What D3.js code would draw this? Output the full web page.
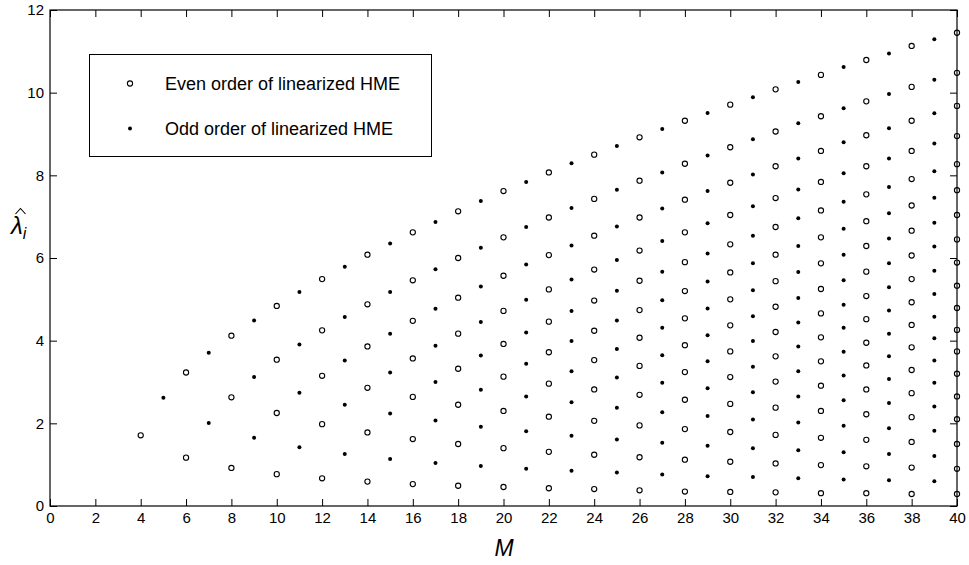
<!DOCTYPE html>
<html>
<head>
<meta charset="utf-8">
<script src="https://cdn.jsdelivr.net/npm/d3@7"></script>
<style>
  body { margin: 0; background: #fff; }
  text { font-family: "Liberation Sans", Arial, sans-serif; }
</style>
</head>
<body>
<div id="chart"></div>
<script>
// Frame size and margins
const FRAME_WIDTH = 969;
const FRAME_HEIGHT = 565;
const MARGINS = {left: 50, right: 12, top: 10, bottom: 59};
const VIS_WIDTH = FRAME_WIDTH - MARGINS.left - MARGINS.right;
const VIS_HEIGHT = FRAME_HEIGHT - MARGINS.top - MARGINS.bottom;

// Tick values
const X_TICKS = d3.range(0, 41, 2);
const Y_TICKS = [0, 2, 4, 6, 8, 10, 12];

// Even orders M and their eigenvalues
const M_EVEN = [4, 6, 8, 10, 12, 14, 16, 18, 20, 22, 24, 26, 28, 30, 32, 34, 36, 38, 40];
const LAMBDA_EVEN = [
  [1.71],
  [3.23, 1.17],
  [4.12, 2.63, 0.92],
  [4.84, 3.54, 2.25, 0.77],
  [5.49, 4.25, 3.15, 1.98, 0.67],
  [6.08, 4.88, 3.86, 2.86, 1.78, 0.59],
  [6.62, 5.46, 4.48, 3.57, 2.64, 1.62, 0.53],
  [7.13, 6.00, 5.04, 4.17, 3.32, 2.45, 1.50, 0.49],
  [7.62, 6.50, 5.57, 4.72, 3.92, 3.13, 2.30, 1.40, 0.46],
  [8.07, 6.98, 6.07, 5.24, 4.46, 3.72, 2.96, 2.16, 1.31, 0.43],
  [8.50, 7.43, 6.54, 5.72, 4.97, 4.24, 3.53, 2.82, 2.06, 1.24, 0.41],
  [8.92, 7.87, 6.98, 6.18, 5.45, 4.74, 4.07, 3.39, 2.69, 1.95, 1.18, 0.38],
  [9.32, 8.28, 7.41, 6.62, 5.90, 5.20, 4.54, 3.89, 3.24, 2.57, 1.86, 1.12, 0.35],
  [9.71, 8.68, 7.82, 7.04, 6.33, 5.65, 5.00, 4.37, 3.74, 3.12, 2.47, 1.79, 1.07, 0.34],
  [10.08, 9.06, 8.22, 7.45, 6.75, 6.08, 5.44, 4.82, 4.21, 3.62, 3.01, 2.38, 1.72, 1.03, 0.33],
  [10.43, 9.43, 8.59, 7.84, 7.15, 6.50, 5.87, 5.25, 4.66, 4.08, 3.50, 2.91, 2.30, 1.65, 0.99, 0.31],
  [10.79, 9.79, 8.97, 8.22, 7.54, 6.89, 6.29, 5.67, 5.08, 4.52, 3.95, 3.40, 2.82, 2.22, 1.60, 0.96, 0.31],
  [11.13, 10.14, 9.32, 8.59, 7.91, 7.27, 6.66, 6.06, 5.49, 4.93, 4.38, 3.84, 3.29, 2.73, 2.15, 1.55, 0.93, 0.29],
  [11.45, 10.48, 9.68, 8.95, 8.27, 7.64, 7.04, 6.45, 5.89, 5.33, 4.79, 4.26, 3.74, 3.20, 2.65, 2.10, 1.50, 0.90, 0.29]
];

// Odd orders M and their eigenvalues
const M_ODD = [5, 7, 9, 11, 13, 15, 17, 19, 21, 23, 25, 27, 29, 31, 33, 35, 37, 39];
const LAMBDA_ODD = [
  [2.62],
  [3.71, 2.01],
  [4.49, 3.12, 1.65],
  [5.18, 3.91, 2.74, 1.42],
  [5.79, 4.57, 3.52, 2.45, 1.26],
  [6.35, 5.18, 4.17, 3.23, 2.24, 1.14],
  [6.87, 5.73, 4.77, 3.88, 3.00, 2.07, 1.04],
  [7.38, 6.25, 5.31, 4.45, 3.64, 2.81, 1.92, 0.97],
  [7.84, 6.75, 5.84, 4.99, 4.20, 3.44, 2.65, 1.81, 0.90],
  [8.29, 7.21, 6.30, 5.48, 4.72, 3.99, 3.26, 2.51, 1.70, 0.85],
  [8.71, 7.65, 6.76, 5.95, 5.21, 4.49, 3.80, 3.11, 2.38, 1.61, 0.81],
  [9.12, 8.07, 7.20, 6.41, 5.67, 4.98, 4.31, 3.65, 2.98, 2.27, 1.53, 0.76],
  [9.51, 8.48, 7.62, 6.84, 6.11, 5.43, 4.78, 4.13, 3.50, 2.85, 2.18, 1.46, 0.72],
  [9.89, 8.87, 8.02, 7.25, 6.54, 5.87, 5.22, 4.59, 3.99, 3.37, 2.75, 2.09, 1.40, 0.70],
  [10.26, 9.26, 8.41, 7.66, 6.96, 6.29, 5.66, 5.03, 4.44, 3.86, 3.26, 2.65, 2.02, 1.35, 0.67],
  [10.62, 9.62, 8.80, 8.05, 7.36, 6.71, 6.08, 5.46, 4.87, 4.31, 3.73, 3.16, 2.56, 1.94, 1.30, 0.64],
  [10.95, 9.97, 9.14, 8.41, 7.72, 7.08, 6.47, 5.87, 5.29, 4.73, 4.17, 3.62, 3.07, 2.49, 1.88, 1.26, 0.62],
  [11.29, 10.31, 9.50, 8.77, 8.10, 7.46, 6.85, 6.28, 5.69, 5.13, 4.58, 4.06, 3.52, 2.98, 2.41, 1.82, 1.21, 0.60]
];

// Flatten into point lists for drawing
const evenPts = M_EVEN.flatMap((m, i) => LAMBDA_EVEN[i].map(v => ({m: m, v: v})));
const oddPts = M_ODD.flatMap((m, i) => LAMBDA_ODD[i].map(v => ({m: m, v: v})));

const svg = d3.select("#chart")
  .append("svg")
    .attr("width", FRAME_WIDTH)
    .attr("height", FRAME_HEIGHT);

const g = svg.append("g")
  .attr("transform", "translate(" + MARGINS.left + "," + MARGINS.top + ")");

// Scales
const X_SCALE = d3.scaleLinear().domain([0, 40]).range([0, VIS_WIDTH]);
const Y_SCALE = d3.scaleLinear().domain([0, 12]).range([VIS_HEIGHT, 0]);

// Bottom axis with inward ticks
g.append("g")
  .attr("transform", "translate(0," + VIS_HEIGHT + ")")
  .call(d3.axisBottom(X_SCALE).tickValues(X_TICKS).tickSize(-7).tickPadding(6))
  .call(a => a.select(".domain").remove())
  .attr("font-size", "15px")
  .attr("font-family", "Liberation Sans, Arial, sans-serif");

// Top axis (ticks only)
g.append("g")
  .call(d3.axisTop(X_SCALE).tickValues(X_TICKS).tickSize(-7).tickFormat(""))
  .call(a => a.select(".domain").remove());

// Left axis
g.append("g")
  .call(d3.axisLeft(Y_SCALE).tickValues(Y_TICKS).tickSize(-7).tickPadding(6))
  .call(a => a.select(".domain").remove())
  .attr("font-size", "15px")
  .attr("font-family", "Liberation Sans, Arial, sans-serif");

// Right axis (ticks only)
g.append("g")
  .attr("transform", "translate(" + VIS_WIDTH + ",0)")
  .call(d3.axisRight(Y_SCALE).tickValues(Y_TICKS).tickSize(-7).tickFormat(""))
  .call(a => a.select(".domain").remove());

// Points: open circles for even order
g.selectAll(".even")
  .data(evenPts)
  .enter()
  .append("circle")
    .attr("class", "even")
    .attr("cx", d => X_SCALE(d.m))
    .attr("cy", d => Y_SCALE(d.v))
    .attr("r", 2.6)
    .attr("fill", "none")
    .attr("stroke", "black")
    .attr("stroke-width", 1.1);

// Points: filled dots for odd order
g.selectAll(".odd")
  .data(oddPts)
  .enter()
  .append("circle")
    .attr("class", "odd")
    .attr("cx", d => X_SCALE(d.m))
    .attr("cy", d => Y_SCALE(d.v))
    .attr("r", 2)
    .attr("fill", "black");

// Plot frame
g.append("rect")
  .attr("x", 0)
  .attr("y", 0)
  .attr("width", VIS_WIDTH)
  .attr("height", VIS_HEIGHT)
  .attr("fill", "none")
  .attr("stroke", "black")
  .attr("stroke-width", 1.2);

// Legend
const legend = svg.append("g");
legend.append("rect")
  .attr("x", 89.5).attr("y", 54.5)
  .attr("width", 342).attr("height", 102)
  .attr("fill", "white").attr("stroke", "black").attr("stroke-width", 1);
legend.append("circle")
  .attr("cx", 130).attr("cy", 83.5).attr("r", 2.6)
  .attr("fill", "none").attr("stroke", "black").attr("stroke-width", 1.1);
legend.append("circle")
  .attr("cx", 130).attr("cy", 128.5).attr("r", 2)
  .attr("fill", "black");
legend.append("text")
  .attr("x", 165).attr("y", 90)
  .attr("font-size", "18px")
  .text("Even order of linearized HME");
legend.append("text")
  .attr("x", 165).attr("y", 135)
  .attr("font-size", "18px")
  .text("Odd order of linearized HME");

// Axis labels
svg.append("text")
  .attr("x", 504).attr("y", 556)
  .attr("text-anchor", "middle")
  .attr("font-family", "Liberation Serif, Times New Roman, serif")
  .attr("font-style", "italic")
  .attr("font-size", "23px")
  .text("M");

const yl = svg.append("text")
  .attr("x", 11).attr("y", 234)
  .attr("font-family", "Liberation Serif, Times New Roman, serif")
  .attr("font-style", "italic")
  .attr("font-size", "24px");
yl.append("tspan").text("\u03BB");
yl.append("tspan").attr("font-size", "16px").attr("dy", 5).text("i");

// Hat over lambda
svg.append("path")
  .attr("d", "M15.5,214 L20.5,208.5 L25.5,214")
  .attr("fill", "none")
  .attr("stroke", "black")
  .attr("stroke-width", 1.1);
</script>
</body>
</html>
